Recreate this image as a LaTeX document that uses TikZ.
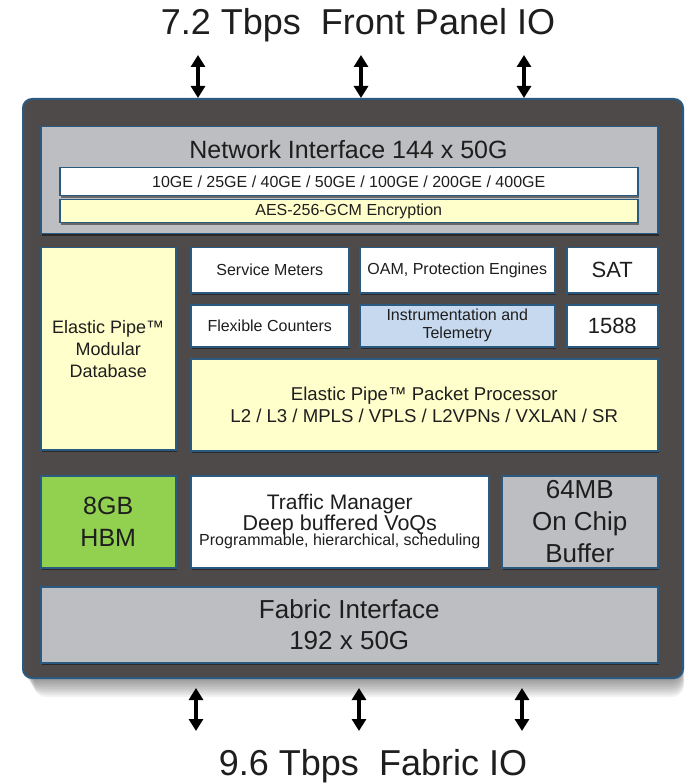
\documentclass[tikz,border=0pt]{standalone}
\usepackage{fontspec}
\setmainfont{Liberation Sans}
\usetikzlibrary{arrows.meta,shadows}
\definecolor{chip}{HTML}{4E4A4A}
\definecolor{edge}{HTML}{2B5A80}
\definecolor{greyb}{HTML}{BDBEC1}
\definecolor{yel}{HTML}{FFFFCC}
\definecolor{grn}{HTML}{92D050}
\definecolor{blu}{HTML}{C6D9EF}
\definecolor{txt}{HTML}{1E1E1E}
\tikzset{
  blk/.style={draw=edge, line width=1.5pt, anchor=north west, inner sep=0pt, align=center, text=txt,
    drop shadow={shadow xshift=1.5pt, shadow yshift=-2pt, opacity=0.45, fill=black}},
  fs/.style 2 args={font=\fontsize{#1}{#2}\selectfont},
  io/.style={line width=3.2pt, {Triangle[width=14pt,length=12pt]}-{Triangle[width=14pt,length=12pt]}},
}
\begin{document}
\begin{tikzpicture}[x=1pt,y=-1pt]
\useasboundingbox (0,0) rectangle (685,783);
% soft shadow of chip
\foreach \d in {2,4,...,20}{
  \fill[black,opacity=0.05,rounded corners=12pt] (22+\d*0.6,98+\d) rectangle (682+\d*0.1,677+\d);
}
\node[draw=edge, line width=2pt, fill=chip, rounded corners=9pt, anchor=north west,
      minimum width=660pt, minimum height=579pt, inner sep=0pt] (chip) at (22,98) {};

% titles
\node[fs={36}{40}, anchor=base, text=txt] (toptitle) at (358,35) {7.2 Tbps\ \ Front Panel IO};
\node[fs={36}{40}, anchor=base, text=txt] (bottitle) at (373,775) {9.6 Tbps\ \ Fabric IO};

% network interface
\node[blk, fill=greyb, minimum width=617pt, minimum height=107pt] (ni) at (40,126) {};
\node[fs={25}{28}, anchor=base, text=txt] (nititle) at (348.5,159) {Network Interface 144 x 50G};
\node[blk, fill=white, minimum width=578pt, minimum height=28pt, fs={16}{18}] (ge) at (59,167) {10GE / 25GE / 40GE / 50GE / 100GE / 200GE / 400GE};
\node[blk, fill=yel, minimum width=578pt, minimum height=23pt, fs={16}{18}] (aes) at (59,199) {AES-256-GCM Encryption};

% middle
\node[blk, fill=yel, minimum width=135pt, minimum height=202pt, fs={18}{22}] (db) at (40,247) {Elastic Pipe™\\Modular\\Database};
\node[blk, fill=white, minimum width=158pt, minimum height=45pt, fs={16}{18}] (sm) at (190,247) {Service Meters};
\node[blk, fill=white, minimum width=195pt, minimum height=45pt, fs={16}{18}] (oam) at (359,247) {OAM, Protection Engines};
\node[blk, fill=white, minimum width=91pt, minimum height=45pt, fs={22}{24}] (sat) at (566,247) {SAT};
\node[blk, fill=white, minimum width=158pt, minimum height=42pt, fs={16}{18}] (fc) at (190,304) {Flexible Counters};
\node[blk, fill=blu, minimum width=195pt, minimum height=42pt, fs={16}{18}] (inst) at (359,304) {Instrumentation and\\Telemetry};
\node[blk, fill=white, minimum width=91pt, minimum height=42pt, fs={22}{24}] (ptp) at (566,304) {1588};
\node[blk, fill=yel, minimum width=467pt, minimum height=92pt, fs={18.6}{22}] (pp) at (190,358) {Elastic Pipe™ Packet Processor\\L2 / L3 / MPLS / VPLS / L2VPNs / VXLAN / SR};

% lower
\node[blk, fill=grn, minimum width=135pt, minimum height=92pt, fs={25}{32}] (hbm) at (40,475) {8GB\\HBM};
\node[blk, fill=white, minimum width=298pt, minimum height=92pt] (tm) at (190,475)
  {{\fontsize{21}{24}\selectfont Traffic Manager}\\[-0.5pt]{\fontsize{21.5}{24}\selectfont Deep buffered VoQs}\\[-2pt]{\fontsize{16}{21}\selectfont Programmable, hierarchical, scheduling}};
\node[blk, fill=greyb, minimum width=156pt, minimum height=92pt, fs={26}{32}] (buf) at (501,475) {64MB\\On Chip\\Buffer};
\node[blk, fill=greyb, minimum width=617pt, minimum height=76pt, fs={26}{31}] (fab) at (40,586) {Fabric Interface\\192 x 50G};

% IO arrows
\foreach \i/\xt/\xb in {1/198/196, 2/361/359, 3/524/522}{
  \coordinate (ta\i) at (\xt,55);
  \coordinate (tb\i) at (\xt,98);
  \coordinate (ba\i) at (\xb,688);
  \coordinate (bb\i) at (\xb,731);
  \draw[io] (ta\i) -- (tb\i);
  \draw[io] (ba\i) -- (bb\i);
}
\end{tikzpicture}
\end{document}
